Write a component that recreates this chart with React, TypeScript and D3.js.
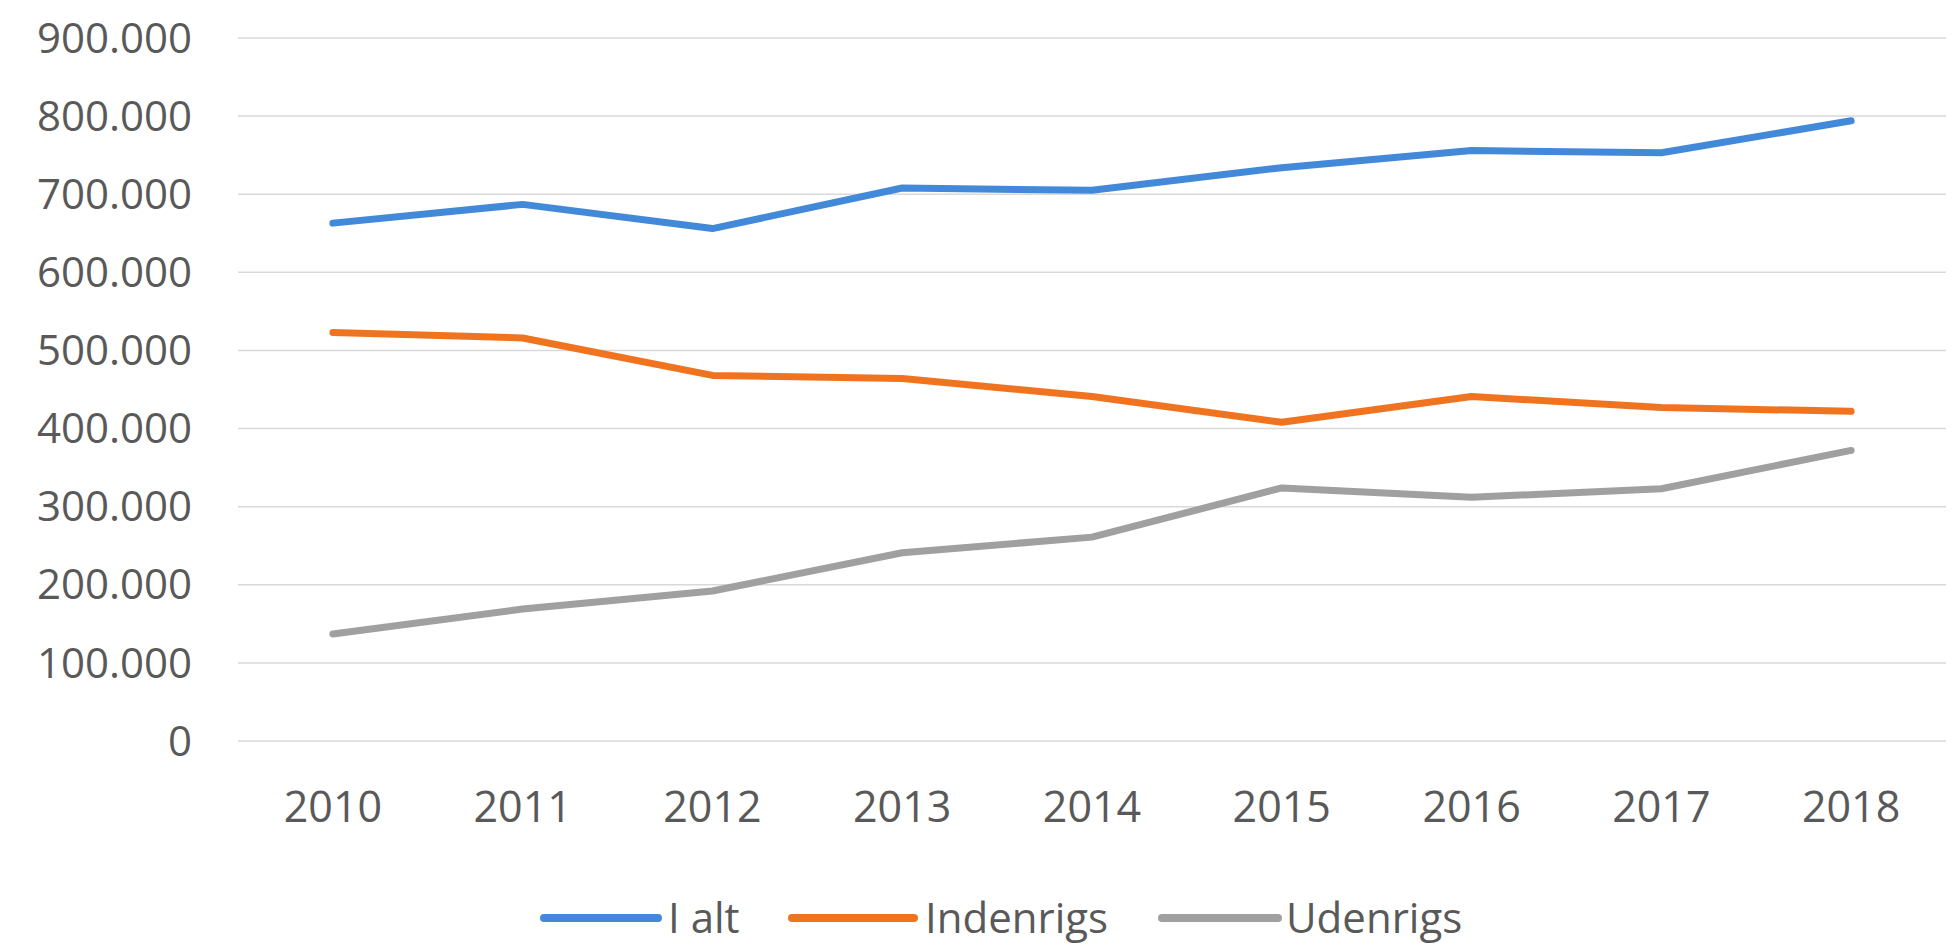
import React from 'react';
import * as d3 from 'd3';

// data
const years = ['2010', '2011', '2012', '2013', '2014', '2015', '2016', '2017', '2018'];
const iAlt = [663000, 687000, 656000, 708000, 705000, 734000, 756000, 753000, 794000];
const indenrigs = [523000, 516000, 468000, 464000, 441000, 408000, 441000, 427000, 422000];
const udenrigs = [137000, 169000, 192000, 241000, 261000, 324000, 312000, 323000, 372000];
const yTicks = [0, 100000, 200000, 300000, 400000, 500000, 600000, 700000, 800000, 900000];

const seriesNames = ['I alt', 'Indenrigs', 'Udenrigs'];
const seriesValues = [iAlt, indenrigs, udenrigs];
const colors = ['#4389d9', '#f0741f', '#a0a0a0'];

const width = 1960;
const height = 951;
const plotLeft = 238;
const plotRight = 1946;
const plotTop = 38;
const plotBottom = 741;

const locale = d3.formatLocale({ decimal: ',', thousands: '.', grouping: [3], currency: ['', ''] });
const fmt = locale.format(',');

export default function App() {
  const x = d3.scalePoint<string>().domain(years).range([plotLeft, plotRight]).padding(0.5);
  const y = d3.scaleLinear().domain([0, 900000]).range([plotBottom, plotTop]);

  const line = d3
    .line<number>()
    .x((d, i) => x(years[i]) as number)
    .y(d => y(d));

  const font = "'Open Sans', 'DejaVu Sans', sans-serif";

  // legend placement
  const legendY = 918;
  const legendItems = [
    { x1: 544, x2: 658, tx: 668 },
    { x1: 792, x2: 914, tx: 925 },
    { x1: 1162, x2: 1278, tx: 1286 }
  ];

  return (
    <svg
      width={width}
      height={height}
      style={{ position: 'absolute', left: 0, top: 0, background: '#fff' }}
      fontFamily={font}
    >
      <rect width={width} height={height} fill="#fff" />
      {yTicks.map(t => (
        <g key={t}>
          <line x1={plotLeft} x2={plotRight} y1={y(t)} y2={y(t)} stroke="#d9d9d9" strokeWidth={1.5} />
          <text x={192} y={y(t)} dy="0.35em" textAnchor="end" fontSize={42} fill="#595959">
            {fmt(t)}
          </text>
        </g>
      ))}
      {years.map(yr => (
        <text key={yr} x={x(yr)} y={822} textAnchor="middle" fontSize={43} fill="#595959">
          {yr}
        </text>
      ))}
      {seriesValues.map((vals, i) => (
        <path
          key={seriesNames[i]}
          d={line(vals) || ''}
          fill="none"
          stroke={colors[i]}
          strokeWidth={7}
          strokeLinejoin="round"
          strokeLinecap="round"
        />
      ))}
      {seriesNames.map((name, i) => (
        <g key={name}>
          <line
            x1={legendItems[i].x1}
            x2={legendItems[i].x2}
            y1={legendY}
            y2={legendY}
            stroke={colors[i]}
            strokeWidth={8}
            strokeLinecap="round"
          />
          <text x={legendItems[i].tx} y={933} fontSize={42} fill="#595959">
            {name}
          </text>
        </g>
      ))}
    </svg>
  );
}
